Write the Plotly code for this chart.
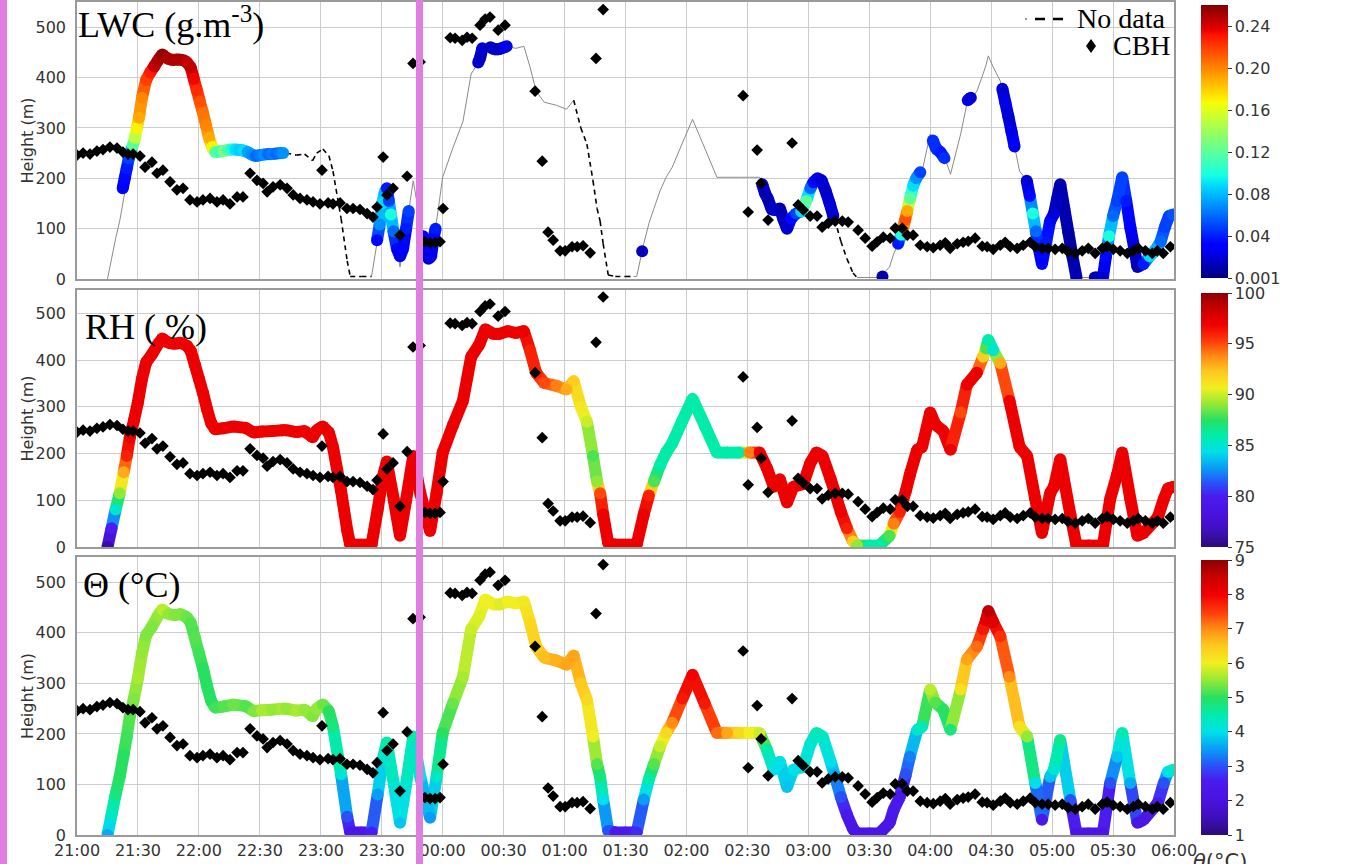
import plotly.graph_objects as go
from plotly.colors import sample_colorscale
from datetime import datetime, timedelta

W, H = 1356, 864
T0 = datetime(2020, 1, 1, 21, 0)

# ---------------- data ----------------
# flight track: minutes after 21:00, height (m), RH (%), theta (degC), LWC probe data flag
track_min = [15, 17, 19, 21, 23, 24.5, 26, 28, 30, 32, 34, 37, 40, 42, 45, 48, 51, 54, 56, 58,
             60, 62, 64, 66, 68, 72, 77, 83, 87, 91, 96, 101, 103, 108, 112, 116, 118, 121, 124, 126,
             130, 133, 134.5, 140, 145, 148, 150.5, 152.5, 156, 159, 162, 165.5, 169, 173.8, 177, 180, 185, 190, 194, 198,
             201, 205, 208, 212, 216, 220, 223, 226, 230, 236, 241, 244.5, 248, 251, 254, 256, 257.5, 259, 261.5, 265,
             270, 274, 275.5, 279, 281.5, 284, 287, 290, 293, 298, 303, 309, 315, 320, 326, 331, 336, 339.6, 343, 346,
             349.5, 352.6, 357.5, 361, 364, 367, 371, 373, 376, 379, 382, 384, 390, 395, 400, 402, 405, 408, 410, 413.6,
             416, 420, 422.5, 426.5, 430, 435, 438, 443, 446, 447.5, 448.6, 451, 454.5, 459, 464, 467.7, 471.7, 475, 479, 481,
             484, 489, 492, 498, 505, 508.6, 512, 514.5, 518.5, 522, 525, 532, 535, 537, 540]
track_h = [0, 40, 80, 115, 160, 195, 235, 270, 310, 360, 395, 413, 435, 446, 437, 435, 437, 431, 420, 390,
           360, 330, 295, 265, 252, 254, 258, 255, 245, 247, 248, 250, 250, 246, 248, 235, 250, 258, 245, 214,
           120, 36, 5, 5, 5, 80, 150, 183, 100, 24, 100, 195, 115, 34, 115, 202, 260, 313, 407, 433,
           466, 456, 456, 462, 458, 462, 421, 373, 351, 345, 337, 355, 300, 268, 195, 140, 115, 70, 8, 5,
           5, 5, 5, 70, 110, 140, 175, 202, 222, 270, 317, 260, 202, 202, 202, 202, 202, 169, 129, 145,
           95, 129, 135, 180, 202, 195, 145, 118, 75, 40, 12, 3, 3, 3, 24, 50, 75, 120, 155, 208,
           214, 288, 262, 248, 208, 288, 347, 373, 407, 425, 443, 421, 393, 313, 214, 195, 103, 30, 115, 130,
           188, 69, 3, 3, 3, 103, 155, 202, 103, 24, 30, 63, 103, 125, 129]
track_rh = [76, 80, 85, 89, 93, 96, 97, 97, 97, 97, 97, 97, 97, 97, 97, 97, 97, 97, 97, 97,
            97, 97, 97, 97, 97, 97, 97, 97, 97, 97, 97, 97, 97, 97, 97, 97, 97, 97, 97, 97,
            97, 97, 97, 97, 97, 97, 97, 97, 97, 97, 97, 97, 97, 97, 97, 97, 97, 97, 97, 97,
            97, 97, 97, 97, 97, 97, 96, 96, 95, 94, 93, 92, 91, 90, 88, 89, 95, 97, 97, 97,
            97, 97, 97, 97, 96, 88, 86, 86, 86, 86, 86, 86, 86, 86, 86, 94, 97, 97, 97, 97,
            97, 97, 97, 97, 97, 97, 97, 97, 97, 96, 92, 89, 86, 86, 88, 94, 96, 97, 97, 97,
            97, 97, 97, 97, 97, 95, 97, 97, 92, 88, 86, 85, 93, 97, 97, 97, 97, 97, 97, 97,
            97, 97, 97, 97, 97, 97, 97, 97, 97, 97, 97, 97, 97, 97, 97]
track_theta = [3.6, 4.3, 4.8, 5.0, 5.0, 5.1, 5.2, 5.4, 5.6, 5.5, 5.4, 5.4, 5.5, 5.7, 5.5, 5.4, 5.4, 5.3, 5.2, 5.2,
               5.1, 5.0, 5.0, 5.0, 5.1, 5.2, 5.3, 5.2, 5.4, 5.6, 5.5, 5.6, 5.5, 5.6, 5.5, 5.4, 5.5, 5.3, 5.0, 4.8,
               4.2, 3.0, 2.3, 2.3, 2.6, 3.5, 4.2, 4.5, 4.2, 3.8, 4.2, 4.5, 4.0, 3.5, 4.3, 5.0, 5.3, 5.6, 5.8, 5.9,
               6.0, 6.0, 5.9, 6.0, 6.0, 6.1, 6.3, 6.4, 6.6, 6.7, 6.8, 6.8, 6.5, 6.3, 6.0, 5.2, 4.8, 4.0, 3.0, 2.5,
               2.5, 2.6, 2.7, 3.5, 4.5, 5.2, 5.8, 6.3, 7.0, 7.8, 8.0, 7.8, 7.2, 6.8, 6.3, 6.0, 5.8, 4.5, 4.0, 4.0,
               3.8, 4.0, 4.0, 4.2, 4.4, 4.3, 4.0, 3.6, 3.0, 2.4, 2.2, 2.2, 2.2, 2.2, 2.3, 2.4, 2.4, 3.0, 3.3, 4.2,
               4.4, 5.7, 5.2, 5.0, 4.8, 6.2, 6.8, 7.2, 7.8, 8.2, 8.6, 8.2, 7.6, 7.0, 6.2, 5.5, 4.0, 2.3, 3.8, 4.2,
               4.7, 3.0, 2.2, 2.2, 2.2, 3.0, 3.8, 4.4, 3.6, 2.2, 2.3, 2.5, 3.0, 4.0, 4.3]
track_lwc_ok = [1] * 32 + [0] * 13 + [1] * 26 + [0] * 11 + [1] * 25 + [0] * 5 + [1] * 43

# LWC samples along the track (minutes after 21:00, height m, g/m3)
lwc_min = [22.5, 23.5, 24.5, 25.5, 26.5, 27.5, 28.5, 29.5, 30.5, 32, 34, 36, 38, 40, 42, 44.5, 47, 49.5, 52, 54,
           56, 57.5, 59, 60.5, 62, 63.5, 65, 66.5, 68, 70, 72, 74, 76, 78, 80, 82, 84, 86, 88, 90,
           92, 94, 96, 98, 100, 101.5,
           147.7, 149, 150.2, 151.5, 152.5, 153.5, 154.5, 155.8, 157.5, 159, 160.5, 162, 163.3,
           170.4, 171.8, 173, 174.3, 175.5, 176.5,
           197.5, 198.5, 199.5, 203.5, 205.5, 207.5, 209.5, 211.5,
           278.2,
           337.3, 338.7, 340, 342, 344, 346, 347.8, 349.5, 351.5, 354, 356.5, 359, 361, 362.5, 364.5, 366.5, 368.5, 370.5, 372.3,
           396.5,
           404.2, 405.7, 406.7, 407.7, 408.7, 410.1, 411.6, 413.1, 415.1,
           421.3, 423, 425, 427,
           438.5, 440,
           455.5, 457, 458.5, 460, 461.5,
           467.5, 469, 470.5, 472, 473.5, 475, 477, 479, 481, 482.5, 484, 486, 488, 490, 492,
           501, 503, 505, 506.5, 508, 510, 512, 514.5, 516.5, 518.5, 520.5, 522, 525, 528, 531, 533.5, 535.5, 537.5, 539.5]
lwc_h = [180, 200, 220, 240, 255, 265, 280, 300, 320, 360, 395, 410, 422, 435, 446, 438, 435, 436, 435, 431,
         420, 397, 375, 352, 330, 305, 280, 262, 252, 253, 254, 256, 257, 257, 256, 255, 252, 247, 244, 246,
         247, 248, 248, 249, 250, 250,
         77, 108, 150, 172, 180, 155, 128, 95, 60, 45, 60, 100, 135,
         85, 60, 40, 45, 80, 100,
         430, 440, 458, 460, 456, 456, 459, 462,
         55,
         188, 170, 160, 138, 137, 140, 118, 100, 120, 130, 134, 155, 180, 192, 200, 196, 175, 150, 125,
         5,
         70, 88, 103, 118, 135, 160, 185, 200, 212,
         275, 258, 252, 240,
         355, 360,
         378, 350, 322, 293, 263,
         195, 165, 130, 95, 60, 30, 72, 115, 130, 160, 188, 140, 93, 45, 3,
         3, 3, 3, 45, 85, 125, 155, 202, 155, 103, 60, 24, 30, 45, 58, 75, 103, 125, 128]
lwc_val = [0.03, 0.035, 0.04, 0.05, 0.08, 0.12, 0.15, 0.17, 0.19, 0.2, 0.22, 0.23, 0.245, 0.25, 0.255, 0.25, 0.25, 0.25, 0.25, 0.245,
           0.245, 0.235, 0.225, 0.215, 0.205, 0.2, 0.19, 0.17, 0.12, 0.11, 0.13, 0.12, 0.1, 0.09, 0.085, 0.09, 0.075, 0.07, 0.06, 0.065,
           0.07, 0.06, 0.065, 0.06, 0.065, 0.07,
           0.035, 0.07, 0.09, 0.08, 0.04, 0.05, 0.1, 0.06, 0.03, 0.025, 0.03, 0.04, 0.05,
           0.03, 0.025, 0.02, 0.025, 0.035, 0.04,
           0.02, 0.015, 0.02, 0.015, 0.02, 0.015, 0.02, 0.025,
           0.015,
           0.02, 0.015, 0.012, 0.015, 0.02, 0.012, 0.015, 0.02, 0.035, 0.05, 0.09, 0.12, 0.06, 0.035, 0.025, 0.02, 0.018, 0.02, 0.02,
           0.012,
           0.04, 0.1, 0.2, 0.215, 0.19, 0.12, 0.09, 0.07, 0.05,
           0.045, 0.045, 0.04, 0.045,
           0.025, 0.02,
           0.02, 0.025, 0.02, 0.025, 0.03,
           0.02, 0.035, 0.1, 0.06, 0.03, 0.03, 0.04, 0.035, 0.02, 0.015, 0.012, 0.012, 0.01, 0.01, 0.012,
           0.012, 0.015, 0.02, 0.035, 0.1, 0.06, 0.05, 0.05, 0.04, 0.03, 0.02, 0.012, 0.04, 0.09, 0.08, 0.06, 0.05, 0.05, 0.055]

# cloud base height (minutes after 21:00, m)
cbh_min = [0, 3, 6.4, 9.8, 12.8, 16.2, 19.7, 22.6, 25.1, 27.6, 31, 33.5, 36.9, 39.4, 42.3, 45.8, 49.2, 52.2, 55.6, 59.1,
           62, 65.5, 68.9, 71.9, 75.3, 78.8, 81.7, 85.2, 88.6, 91.6, 93.6, 96.5, 100, 103.4, 106.4, 109.8, 113.2, 116.2, 119.6, 120.6,
           123.6, 126, 129.5, 132.9, 135.9, 139.3, 142.8, 145.7, 147.7, 150.7, 152.6, 155.6, 159, 162.5, 165.4, 168.9, 171.3, 173.8, 176.3, 178.7,
           180.2, 183.7, 186.1, 189.6, 192, 194.5, 198.4, 200.9, 203.3, 207.3, 210.7, 225.5, 229, 231.9, 234.4, 237.8, 240.3, 243.7, 246.2, 249.1,
           252.6, 255.5, 259, 327.9, 330.4, 334.8, 336.8, 340.2, 352, 355, 357.5, 360.9, 364.3, 366.8, 369.8, 373.2, 376.7, 379.6, 384.5, 388,
           391.4, 393.9, 396.9, 400.3, 402.8, 406.2, 408.7, 411.6, 415.1, 418.5, 421.5, 424.9, 427.4, 429.8, 433.3, 436.2, 438.7, 442.1, 445.6, 448,
           451, 454.5, 456.9, 459.4, 462.8, 465.8, 469.2, 471.7, 475.1, 478.1, 481.5, 485, 487.9, 491.4, 494.8, 497.8, 501.2, 504.7, 507.1, 510.1,
           513.5, 517, 520, 522.4, 525.9, 529.3, 531.8, 534.7, 538.2]
cbh_h = [246, 250, 248, 254, 257, 262, 260, 252, 248, 248, 244, 222, 232, 210, 216, 193, 177, 180, 157, 153,
         157, 160, 153, 157, 149, 163, 163, 210, 196, 190, 173, 183, 187, 180, 167, 160, 157, 153, 149, 216,
         151, 149, 151, 140, 140, 138, 130, 123, 143, 242, 167, 180, 87, 204, 428, 431, 74, 72, 72, 74,
         140, 479, 478, 474, 480, 478, 504, 516, 520, 494, 504, 373, 234, 93, 77, 56, 56, 64, 64, 66,
         52, 438, 535, 364, 133, 256, 190, 117, 270, 147, 137, 125, 125, 103, 111, 115, 115, 113, 97, 81,
         65, 74, 83, 81, 101, 101, 87, 87, 67, 64, 62, 67, 72, 61, 70, 73, 75, 81, 65, 64,
         59, 67, 73, 64, 61, 67, 73, 64, 61, 61, 59, 61, 54, 51, 56, 61, 51, 61, 65, 59,
         56, 51, 56, 61, 56, 51, 56, 51, 64]

time_ticks = ["21:00", "21:30", "22:00", "22:30", "23:00", "23:30", "00:00", "00:30", "01:00", "01:30",
              "02:00", "02:30", "03:00", "03:30", "04:00", "04:30", "05:00", "05:30", "06:00"]
height_ticks = [0, 100, 200, 300, 400, 500]
lwc_ticks = [0.001, 0.04, 0.08, 0.12, 0.16, 0.20, 0.24]
lwc_ticktext = ["0.001", "0.04", "0.08", "0.12", "0.16", "0.20", "0.24"]
rh_ticks = [75, 80, 85, 90, 95, 100]
theta_ticks = [1, 2, 3, 4, 5, 6, 7, 8, 9]

# ---------------- styling ----------------
JET = [[0, "rgb(0,0,128)"], [0.11, "rgb(0,0,255)"], [0.125, "rgb(0,0,255)"], [0.34, "rgb(0,219,255)"],
       [0.375, "rgb(21,255,226)"], [0.5, "rgb(123,255,123)"], [0.64, "rgb(244,255,8)"], [0.66, "rgb(255,236,0)"],
       [0.89, "rgb(255,19,0)"], [0.91, "rgb(232,0,0)"], [1, "rgb(128,0,0)"]]
RAINBOW = [[0, "rgb(45,10,120)"], [0.06, "rgb(63,15,184)"], [0.13, "rgb(74,18,224)"], [0.2, "rgb(74,28,240)"],
           [0.25, "rgb(42,80,248)"], [0.31, "rgb(10,154,245)"], [0.375, "rgb(0,224,232)"], [0.44, "rgb(0,236,168)"],
           [0.5, "rgb(40,224,96)"], [0.56, "rgb(144,232,56)"], [0.625, "rgb(240,240,32)"], [0.69, "rgb(255,200,30)"],
           [0.75, "rgb(255,140,20)"], [0.81, "rgb(255,60,10)"], [0.875, "rgb(240,0,0)"], [0.94, "rgb(200,0,0)"],
           [1, "rgb(140,0,0)"]]

GRID = "#cccccc"
FRAME = "#9a9a9a"
TICKFONT = dict(family="DejaVu Sans", size=16, color="#333333")
SERIF = "Liberation Serif"
PINK = "#e07ee0"


def to_dt(mins):
    return [T0 + timedelta(minutes=float(m)) for m in mins]


def pyx(px):
    return 1 - px / H


def pxx(px):
    return px / W


def seg_traces(tmins, hs, vals, cmin, cmax, scale, xa, ya, width, max_gap=None):
    groups = {}
    xs = to_dt(tmins)
    for i in range(len(tmins) - 1):
        if max_gap is not None and tmins[i + 1] - tmins[i] > max_gap:
            continue
        f = ((vals[i] + vals[i + 1]) / 2 - cmin) / (cmax - cmin)
        f = round(min(max(f, 0), 1) * 100) / 100
        col = sample_colorscale(scale, [f])[0]
        gx, gy = groups.setdefault(col, ([], []))
        gx += [xs[i], xs[i + 1], None]
        gy += [hs[i], hs[i + 1], None]
    return [go.Scatter(x=gx, y=gy, mode="lines", line=dict(color=c, width=width),
                       xaxis=xa, yaxis=ya, hoverinfo="skip", showlegend=False)
            for c, (gx, gy) in groups.items()]


def cbar(top_px, bot_px, tickvals, ticktext=None):
    d = dict(x=pxx(1201), xanchor="left", y=pyx((top_px + bot_px) / 2), yanchor="middle",
             len=(bot_px - top_px) / H, lenmode="fraction", thickness=27, thicknessmode="pixels",
             xpad=0, ypad=0, outlinewidth=0, ticks="outside", ticklen=4, tickcolor="#333333",
             tickvals=tickvals, tickfont=TICKFONT)
    if ticktext:
        d["ticktext"] = ticktext
    return d


def marker_trace(tmins, hs, vals, cmin, cmax, scale, xa, ya, cb):
    return go.Scatter(x=to_dt(tmins), y=hs, mode="markers",
                      marker=dict(size=12, color=vals, cmin=cmin, cmax=cmax, colorscale=scale,
                                  line=dict(width=0), showscale=True, colorbar=cb),
                      xaxis=xa, yaxis=ya, hoverinfo="skip", showlegend=False)


def cbh_trace(xa, ya):
    return go.Scatter(x=to_dt(cbh_min), y=cbh_h, mode="markers", name="CBH",
                      marker=dict(symbol="diamond", size=9, color="black", line=dict(width=0)),
                      xaxis=xa, yaxis=ya, showlegend=False, hoverinfo="skip")


fig = go.Figure()

# ---- panel 1: LWC ----
tx = to_dt(track_min)
solid_x, solid_y, dash_x, dash_y = [], [], [], []
for i in range(len(track_min) - 1):
    if track_lwc_ok[i] == 0 and track_lwc_ok[i + 1] == 0:
        dash_x += [tx[i], tx[i + 1], None]
        dash_y += [track_h[i], track_h[i + 1], None]
    else:
        solid_x += [tx[i], tx[i + 1], None]
        solid_y += [track_h[i], track_h[i + 1], None]
fig.add_trace(go.Scatter(x=solid_x, y=solid_y, mode="lines", line=dict(color="#8a8a8a", width=1),
                         xaxis="x", yaxis="y", showlegend=False, hoverinfo="skip"))
fig.add_trace(go.Scatter(x=dash_x, y=dash_y, mode="lines", name="No data",
                         line=dict(color="black", width=1.6, dash="5px,4px"),
                         xaxis="x", yaxis="y", showlegend=False, hoverinfo="skip"))
for tr in seg_traces(lwc_min, lwc_h, lwc_val, 0.001, 0.26, JET, "x", "y", 12, max_gap=3.1):
    fig.add_trace(tr)
fig.add_trace(marker_trace(lwc_min, lwc_h, lwc_val, 0.001, 0.26, JET, "x", "y",
                           cbar(5, 278, lwc_ticks, lwc_ticktext)))
fig.add_trace(cbh_trace("x", "y"))

# ---- panel 2: RH ----
for tr in seg_traces(track_min, track_h, track_rh, 75, 100, RAINBOW, "x2", "y2", 12):
    fig.add_trace(tr)
fig.add_trace(marker_trace(track_min, track_h, track_rh, 75, 100, RAINBOW, "x2", "y2",
                           cbar(293, 547, rh_ticks)))
fig.add_trace(cbh_trace("x2", "y2"))

# ---- panel 3: theta ----
for tr in seg_traces(track_min, track_h, track_theta, 1, 9, RAINBOW, "x3", "y3", 12):
    fig.add_trace(tr)
fig.add_trace(marker_trace(track_min, track_h, track_theta, 1, 9, RAINBOW, "x3", "y3",
                           cbar(560, 835, theta_ticks)))
fig.add_trace(cbh_trace("x3", "y3"))

# ---- axes ----
tick_dt = []
for lab in time_ticks:
    hh, mm = map(int, lab.split(":"))
    d = T0.replace(hour=hh, minute=mm)
    if hh < 21:
        d += timedelta(days=1)
    tick_dt.append(d)

xdom = [pxx(77), pxx(1174)]
xcommon = dict(type="date", range=[T0, T0 + timedelta(minutes=540)], tickvals=tick_dt, ticktext=time_ticks,
               showgrid=True, gridcolor=GRID, gridwidth=1, showline=True, linecolor=FRAME, linewidth=1.5,
               mirror=True, ticks="", zeroline=False, tickfont=TICKFONT, domain=xdom, automargin=False)
ycommon = dict(range=[0, 550], tickvals=height_ticks, showgrid=True, gridcolor=GRID, gridwidth=1,
               showline=True, linecolor=FRAME, linewidth=1.5, mirror=True, ticks="", zeroline=False,
               tickfont=TICKFONT, ticklabelstandoff=6, automargin=False)

fig.update_layout(
    width=W, height=H, autosize=False,
    margin=dict(l=0, r=0, t=0, b=0, autoexpand=False),
    paper_bgcolor="white", plot_bgcolor="white",
    xaxis=dict(xcommon, anchor="y", showticklabels=False),
    xaxis2=dict(xcommon, anchor="y2", showticklabels=False),
    xaxis3=dict(xcommon, anchor="y3", showticklabels=True),
    yaxis=dict(ycommon, anchor="x", domain=[pyx(279), pyx(2)]),
    yaxis2=dict(ycommon, anchor="x2", domain=[pyx(547), pyx(290)]),
    yaxis3=dict(ycommon, anchor="x3", domain=[pyx(835), pyx(557)]),
    showlegend=False,
)

ann = []
for txt, ypx, xpx in [("LWC (g.m<sup>-3</sup>)", 23, 76), ("RH ( %)", 327, 83), ("Θ (°C)", 585, 81)]:
    ann.append(dict(text=txt, x=pxx(xpx), y=pyx(ypx), xref="paper", yref="paper", xanchor="left",
                    yanchor="middle", showarrow=False, font=dict(family=SERIF, size=36, color="black")))
for ypx in [140.5, 418.5, 696]:
    ann.append(dict(text="Height (m)", x=pxx(27), y=pyx(ypx), xref="paper", yref="paper", xanchor="center",
                    yanchor="middle", textangle=-90, showarrow=False,
                    font=dict(family="DejaVu Sans", size=16, color="#333333")))
# legend texts (drawn in the upper right corner of the LWC panel)
ann.append(dict(text="No data", x=pxx(1075), y=pyx(18), xref="paper", yref="paper", xanchor="left",
                yanchor="middle", showarrow=False, font=dict(family=SERIF, size=28, color="black")))
ann.append(dict(text="CBH", x=pxx(1111), y=pyx(46), xref="paper", yref="paper", xanchor="left",
                yanchor="middle", showarrow=False, font=dict(family=SERIF, size=28, color="black")))
ann.append(dict(text="<i>θ</i>(°C)", x=pxx(1191), y=pyx(848), xref="paper", yref="paper", xanchor="left",
                yanchor="top", showarrow=False, font=dict(family="DejaVu Sans", size=21, color="#333333")))
fig.update_layout(annotations=ann)

cx, cy = 1091, 46
diamond_path = "M {},{} L {},{} L {},{} L {},{} Z".format(
    pxx(cx), pyx(cy - 7), pxx(cx + 5), pyx(cy), pxx(cx), pyx(cy + 7), pxx(cx - 5), pyx(cy))
fig.update_layout(shapes=[
    # legend symbols
    dict(type="line", xref="paper", yref="paper", x0=pxx(1035), x1=pxx(1063), y0=pyx(19), y1=pyx(19),
         line=dict(color="black", width=2.5, dash="10px,8px")),
    dict(type="line", xref="paper", yref="paper", x0=pxx(1025), x1=pxx(1027), y0=pyx(19), y1=pyx(19),
         line=dict(color="#777777", width=1.5)),
    dict(type="path", xref="paper", yref="paper", path=diamond_path, fillcolor="black", line=dict(width=0)),
    # violet bars overlaid on the image
    dict(type="rect", xref="paper", yref="paper", x0=0, x1=pxx(7), y0=0, y1=1,
         fillcolor=PINK, line=dict(width=0), layer="above"),
    dict(type="rect", xref="paper", yref="paper", x0=pxx(416), x1=pxx(423), y0=0, y1=1,
         fillcolor=PINK, line=dict(width=0), layer="above"),
])

fig.write_html("out.html")
